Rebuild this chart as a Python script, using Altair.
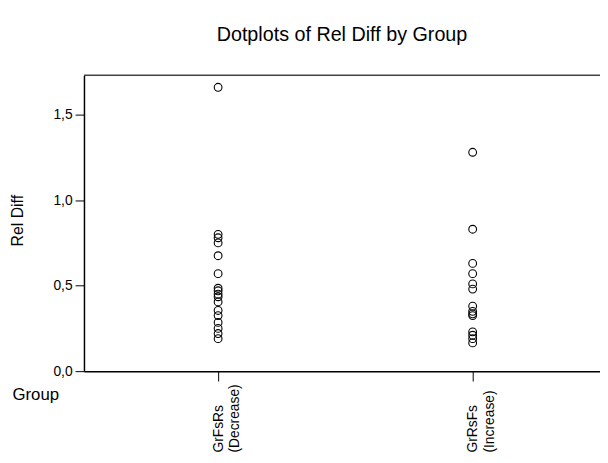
import altair as alt
import pandas as pd

# Data
groups = ["GrFsRs|(Decrease)", "GrRsFs|(Increase)"]
g1_values = [1.66, 0.80, 0.78, 0.75, 0.675, 0.57, 0.485, 0.47, 0.45, 0.435, 0.405,
             0.355, 0.325, 0.285, 0.25, 0.22, 0.19]
g2_values = [1.28, 0.83, 0.63, 0.57, 0.51, 0.48, 0.38, 0.35, 0.335, 0.325,
             0.23, 0.21, 0.19, 0.165]
y_ticks = [0.0, 0.5, 1.0, 1.5]

df = pd.DataFrame({
    "Group": [groups[0]] * len(g1_values) + [groups[1]] * len(g2_values),
    "RelDiff": g1_values + g2_values,
})

W, H = 523, 300
FONT = "Liberation Sans"

points = alt.Chart(df).mark_point(
    shape="circle", filled=False, color="black", size=62, strokeWidth=1.1, opacity=1
).encode(
    x=alt.X(
        "Group:N", sort=groups,
        scale=alt.Scale(type="point", padding=0.5136, align=0.513),
        axis=alt.Axis(
            title="Group", titleAngle=0, titleX=-73, titleY=29,
            titleAlign="left", titleBaseline="alphabetic", titleFontSize=17,
            titleFont=FONT, titleFontWeight="normal", titleColor="black",
            labelExpr="split(datum.label, '|')", labelAngle=270,
            labelAlign="left", labelBaseline="middle", labelPadding=72,
            labelFontSize=14, labelFont=FONT, labelColor="black",
            labelLineHeight=17,
            tickSize=10, tickColor="black", domainColor="black",
            domainWidth=1.5, labelOverlap=False,
        ),
    ),
    y=alt.Y(
        "RelDiff:Q",
        scale=alt.Scale(domain=[0, 1.731], nice=False, zero=True),
        axis=alt.Axis(
            title="Rel Diff", titleAngle=270, titleX=-67, titleY=147,
            titleAlign="center", titleBaseline="middle", titleFontSize=16,
            titleFont=FONT, titleFontWeight="normal", titleColor="black",
            values=y_ticks,
            labelExpr="replace(format(datum.value, '.1f'), '.', ',')",
            labelFontSize=14, labelFont=FONT, labelColor="black",
            labelPadding=3, tickSize=9, tickColor="black",
            domainColor="black", domainWidth=1.5, grid=False,
        ),
    ),
)

top_line = alt.Chart(pd.DataFrame({"a": [0]})).mark_rule(
    color="#444444", strokeWidth=1.5
).encode(x=alt.value(0), x2=alt.value(W), y=alt.value(0))

chart = alt.layer(points, top_line).properties(
    width=W, height=H,
    title=alt.TitleParams(
        "Dotplots of Rel Diff by Group", fontSize=20, font=FONT,
        fontWeight="normal", anchor="middle", baseline="alphabetic",
        offset=14, color="black",
    ),
    autosize=alt.AutoSizeParams(type="none"),
    padding={"left": 77, "top": 65, "right": 0, "bottom": 88},
).configure_view(stroke=None).configure(background="white")

chart.save("out.html", embed_options={"renderer": "svg", "actions": False})
